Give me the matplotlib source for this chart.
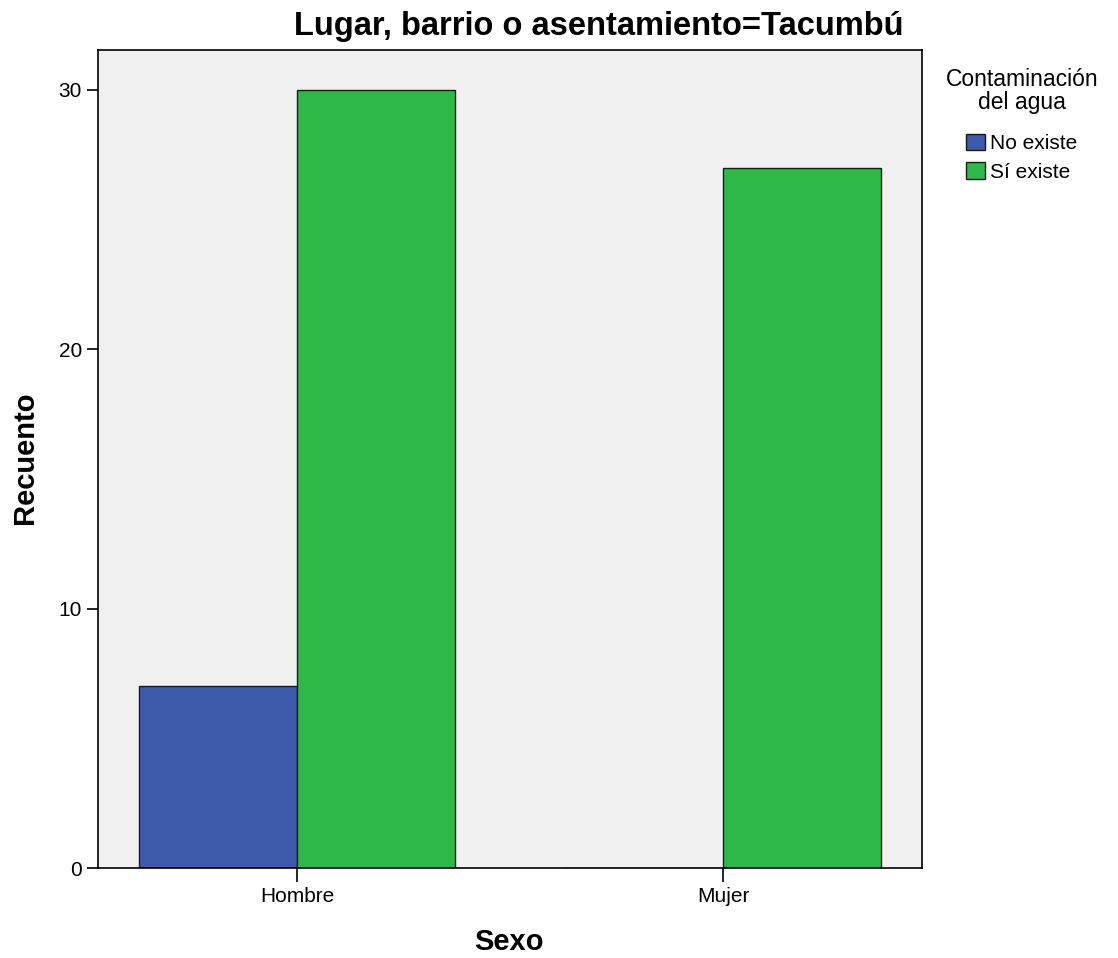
import matplotlib.pyplot as plt
import numpy as np

plt.rcParams['font.family'] = ['Liberation Sans', 'DejaVu Sans']

categorias = ['Hombre', 'Mujer']
no_existe = [7, 0]
si_existe = [30, 27]
series = ['No existe', 'Sí existe']

W, H = 1118, 958
fig = plt.figure(figsize=(W / 100, H / 100), dpi=100)
ax = fig.add_axes([98 / W, 1 - 868 / H, 824 / W, 818 / H])
ax.set_facecolor('#f0f0f0')

x = np.arange(len(categorias))
w = 0.371
ax.bar(x - w / 2, no_existe, w, color='#3e58ac', edgecolor='#1a1a1a', linewidth=1, label=series[0])
ax.bar(x + w / 2, si_existe, w, color='#2eb848', edgecolor='#1a1a1a', linewidth=1, label=series[1])

ax.set_xlim(-0.467, 1.467)
ax.set_ylim(0, 31.54)
ax.set_xticks(x)
ax.set_xticklabels(categorias)
ax.set_yticks([0, 10, 20, 30])
ax.tick_params(axis='both', labelsize=15, width=1.2, pad=3.5)
ax.tick_params(axis='y', length=8)
ax.tick_params(axis='x', length=10)
for s in ax.spines.values():
    s.set_linewidth(1.2)

# etiquetas de los ejes
fig.text(25 / W, 1 - 458 / H, 'Recuento', fontsize=21, fontweight='bold',
         rotation=90, ha='center', va='center')
fig.text(509 / W, 1 - 942 / H, 'Sexo', fontsize=21, fontweight='bold',
         ha='center', va='center')

fig.text(599 / W, 1 - 26 / H, 'Lugar, barrio o asentamiento=Tacumbú', fontsize=23.5,
         fontweight='bold', ha='center', va='center')

leg = ax.legend(title='Contaminación\ndel agua', loc='upper center',
                bbox_to_anchor=(1022 / W, 1 - 58 / H), bbox_transform=fig.transFigure,
                frameon=False, fontsize=15, title_fontsize=16.5, handlelength=0.9,
                handleheight=0.85, handletextpad=0.25, labelspacing=0.42,
                borderpad=0, alignment='center')
leg.get_title().set_multialignment('center')
leg.get_title().set_linespacing(1.0)
leg._legend_box.sep = 14  # más espacio entre título y entradas

plt.savefig('out.png', dpi=100)
plt.close()
